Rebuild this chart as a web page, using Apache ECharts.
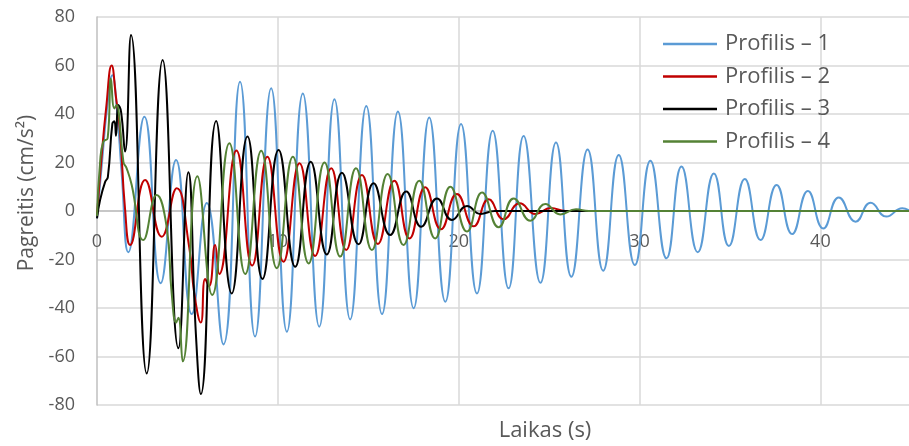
<!DOCTYPE html>
<html>
<head>
<meta charset="utf-8">
<script src="https://cdn.jsdelivr.net/npm/echarts@6/dist/echarts.min.js"></script>
<style>
  html, body { margin: 0; padding: 0; background: #ffffff; }
  #chart { width: 909px; height: 446px; }
</style>
</head>
<body>
<div id="chart"></div>
<script>
// Acceleration records for four profiles: turning points (time in s, value in cm/s²)
const seriesNames = ['Profilis – 1', 'Profilis – 2', 'Profilis – 3', 'Profilis – 4'];

const p1Time = [0, 0.3, 0.55, 0.85, 1.1, 1.36, 1.73, 2.62, 3.52, 4.37, 5.24, 6.07, 6.99, 7.91, 8.74, 9.63, 10.5, 11.38, 12.29, 13.13, 14.0, 14.89, 15.76, 16.64, 17.51, 18.37, 19.26, 20.13, 21.01, 21.88, 22.76, 23.59, 24.52, 25.38, 26.23, 27.13, 27.99, 28.85, 29.74, 30.6, 31.49, 32.32, 33.22, 34.11, 34.94, 35.82, 36.69, 37.58, 38.44, 39.31, 40.16, 41.02, 41.95, 42.78, 43.65, 44.53, 44.9];
const p1Val  = [-3, 22, 42, 56, 42, 16, -17, 38.9, -29.8, 21, -42.5, 3.3, -55, 53.3, -51.8, 50.6, -49.8, 48.5, -47.7, 46.1, -44.7, 43.3, -42.5, 41, -40.1, 38.6, -37.4, 35.9, -34, 33.1, -31.9, 30.9, -29.6, 28.2, -27.1, 25.4, -24.6, 23.1, -22.3, 20.7, -19.5, 18.3, -17, 15.5, -14.4, 13.2, -12, 10.7, -9.5, 8.2, -7.2, 5.6, -4.4, 3.4, -2.3, 1.1, 0.3];

const p2Time = [0, 0.25, 0.5, 0.81, 1.05, 1.27, 1.55, 1.83, 2.66, 3.58, 4.41, 5.1, 5.38, 5.74, 5.98, 6.2, 6.53, 6.76, 7.71, 8.58, 9.42, 10.31, 11.2, 12.06, 12.95, 13.78, 14.65, 15.53, 16.44, 17.28, 18.15, 19.02, 19.9, 20.83, 21.66, 22.49, 23.37, 24.24, 25.1, 25.9, 44.9];
const p2Val  = [-2, 22, 42, 60, 47, 33, 1, -14, 12.8, -10.6, 9.4, -15, -34, -46, -28, -31, -14, -26, 25, -22.5, 22.4, -20.9, 19.7, -18.6, 17.6, -16.1, 14.8, -13.6, 12.5, -11.3, 9.8, -7.5, 7, -6.3, 4.8, -3.4, 3.2, -1.2, 1.2, 0, 0];

const p3Time = [0, 0.17, 0.45, 0.6, 0.85, 0.96, 1.05, 1.18, 1.33, 1.55, 1.88, 2.75, 3.63, 4.5, 5.05, 5.47, 5.74, 6.59, 7.45, 8.32, 9.15, 10.04, 10.96, 11.82, 12.71, 13.54, 14.46, 15.29, 16.21, 17.1, 17.93, 18.8, 19.63, 20.46, 21.2, 22.0, 44.9];
const p3Val  = [-3, 4.5, 12, 14, 36, 37, 31, 43.7, 41, 24.5, 72.6, -67, 62.3, -56.6, 16, -51, -75.5, 37.1, -34, 30.7, -28, 25.2, -23, 20.3, -17.9, 15.8, -13.7, 11.4, -9.9, 8, -6.5, 5.2, -3.7, 2.1, -1.2, 0, 0];

const p4Time = [0, 0.17, 0.35, 0.59, 0.77, 0.96, 1.09, 1.2, 1.46, 1.64, 1.92, 2.56, 3.3, 3.85, 4.13, 4.38, 4.5, 4.74, 5.55, 6.37, 7.32, 8.2, 9.08, 9.94, 10.83, 11.7, 12.58, 13.45, 14.32, 15.2, 16.07, 16.95, 17.82, 18.7, 19.54, 20.46, 21.29, 22.21, 23.04, 23.96, 24.79, 25.62, 26.49, 27.2, 44.9];
const p4Val  = [-2, 20, 28.6, 30, 54.5, 42.3, 43.7, 41, 20.3, 17.6, 10.7, -12, 6.6, -6.5, -34, -46, -44, -62, 14.3, -34.6, 27.9, -26, 24.8, -23.6, 22.4, -21.6, 20, -18.8, 17.6, -16.1, 15.3, -14, 12.5, -11.3, 10, -8.5, 7.6, -6.7, 5.2, -4, 2.9, -1.4, 0.7, 0, 0];

const seriesColors = ['#5B9BD5', '#C00000', '#000000', '#548235'];

const xTickInterval = 10;
const yTicks = [-80, -60, -40, -20, 0, 20, 40, 60, 80];

const allTimes = [p1Time, p2Time, p3Time, p4Time];
const allVals = [p1Val, p2Val, p3Val, p4Val];

function pairs(t, v) {
  return t.map((x, i) => [x, v[i]]);
}

const FONT = '"Open Sans", "Noto Sans", sans-serif';
const TEXT_COLOR = '#595959';
const GRID_COLOR = '#d9d9d9';

// plot box (px) — the time axis is lifted from the bottom edge to the zero line
const GRID_TOP = 17, GRID_BOTTOM = 41, CHART_H = 446;
const plotH = CHART_H - GRID_TOP - GRID_BOTTOM;
const zeroLift = plotH * (0 - yTicks[0]) / (yTicks[yTicks.length - 1] - yTicks[0]);

const chart = echarts.init(document.getElementById('chart'), null, { renderer: 'canvas' });

chart.setOption({
  animation: false,
  backgroundColor: '#ffffff',
  textStyle: { fontFamily: FONT },
  grid: { left: 97, right: 0, top: GRID_TOP, bottom: GRID_BOTTOM, containLabel: false, outerBoundsMode: 'none' },
  legend: {
    orient: 'vertical',
    left: 663,
    top: 33,
    padding: 0,
    itemWidth: 54,
    itemHeight: 2.5,
    itemGap: 10.5,
    icon: 'rect',
    textStyle: { color: TEXT_COLOR, fontSize: 22, fontFamily: FONT, padding: [0, 0, 0, 3], lineHeight: 22 },
    data: seriesNames
  },
  xAxis: {
    type: 'value',
    min: 0,
    max: 44.9,
    interval: xTickInterval,
    position: 'bottom',
    offset: -zeroLift,
    name: 'Laikas (s)',
    nameLocation: 'middle',
    nameGap: 209,
    nameTextStyle: { color: TEXT_COLOR, fontSize: 22, fontFamily: FONT, padding: [0, 0, 0, 84] },
    axisLine: { show: true, onZero: false, lineStyle: { color: '#bfbfbf', width: 1.5 } },
    axisTick: { show: false },
    axisLabel: { color: TEXT_COLOR, fontSize: 18, fontFamily: FONT, margin: 22, showMaxLabel: false },
    splitLine: { show: true, showMinLine: false, showMaxLine: false, lineStyle: { color: GRID_COLOR, width: 1.5 } }
  },
  yAxis: {
    type: 'value',
    min: yTicks[0],
    max: yTicks[yTicks.length - 1],
    interval: 20,
    name: 'Pagreitis (cm/s²)',
    nameLocation: 'middle',
    nameGap: 58,
    nameTextStyle: { color: TEXT_COLOR, fontSize: 21, fontFamily: FONT, padding: [0, 0, 0, 36] },
    axisLine: { show: true, onZero: false, lineStyle: { color: '#bfbfbf', width: 1.5 } },
    axisTick: { show: false },
    axisLabel: { color: TEXT_COLOR, fontSize: 18, fontFamily: FONT, margin: 22 },
    splitLine: { show: true, lineStyle: { color: GRID_COLOR, width: 1.5 } }
  },
  series: seriesNames.map((name, i) => ({
    name: name,
    type: 'line',
    data: pairs(allTimes[i], allVals[i]),
    showSymbol: false,
    symbol: 'none',
    smooth: 0.5,
    clip: true,
    lineStyle: { color: seriesColors[i], width: 2 },
    itemStyle: { color: seriesColors[i] },
    z: 2 + i
  }))
});
</script>
</body>
</html>
